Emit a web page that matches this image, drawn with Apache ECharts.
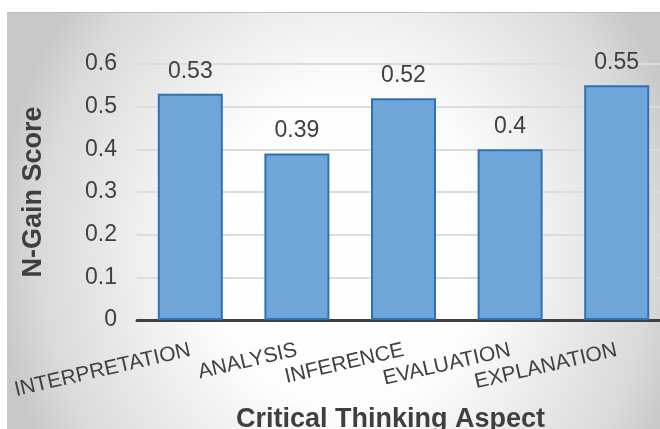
<!DOCTYPE html>
<html>
<head>
<meta charset="utf-8">
<script src="https://cdn.jsdelivr.net/npm/echarts@6/dist/echarts.min.js"></script>
<style>
html,body{margin:0;padding:0;background:#ffffff;}
#chart{width:660px;height:429px;}
</style>
</head>
<body>
<div id="chart"></div>
<script>
const categories = ['INTERPRETATION', 'ANALYSIS', 'INFERENCE', 'EVALUATION', 'EXPLANATION'];
const values = [0.53, 0.39, 0.52, 0.4, 0.55];
const yTickLabels = ['0', '0.1', '0.2', '0.3', '0.4', '0.5', '0.6'];
const yTitle = 'N-Gain Score';
const xTitle = 'Critical Thinking Aspect';

const FONT = '"Liberation Sans", Arial, sans-serif';
const chart = echarts.init(document.getElementById('chart'), null, {renderer: 'canvas'});

chart.setOption({
  animation: false,
  graphic: [
    {
      type: 'rect', z: -20, silent: true,
      x: 7, y: 12, scaleX: 1, scaleY: 1.143,
      shape: {x: 0, y: 0, width: 653, height: 364.9},
      style: {
        fill: new echarts.graphic.RadialGradient(0.518, 0.571, 0.959, [
          {offset: 0, color: '#ffffff'},
          {offset: 0.4, color: '#fdfdfd'},
          {offset: 0.63, color: '#ececec'},
          {offset: 0.87, color: '#dadada'},
          {offset: 1, color: '#c8c8c8'}
        ])
      }
    },
    {
      type: 'line', z: -18, silent: true,
      shape: {x1: 7, y1: 12.5, x2: 660, y2: 12.5},
      style: {stroke: '#bdbdbd', lineWidth: 1}
    }
  ],
  grid: {left: 137, top: 64, width: 533, height: 256, containLabel: false, outerBoundsMode: 'none'},
  xAxis: {
    type: 'category',
    data: categories,
    name: xTitle,
    nameLocation: 'middle',
    nameGap: 80,
    nameTextStyle: {fontFamily: FONT, fontSize: 27, fontWeight: 'bold', color: '#3f3f3f', padding: [0, 26, 0, 0]},
    axisLine: {show: true, lineStyle: {color: '#404040', width: 3}},
    axisTick: {show: false},
    axisLabel: {rotate: 13, margin: 30, fontFamily: FONT, fontSize: 21, color: '#404040', interval: 0}
  },
  yAxis: {
    type: 'value',
    min: 0, max: 0.6, interval: 0.1,
    name: yTitle,
    nameLocation: 'middle',
    nameGap: 90,
    nameRotate: 90,
    nameTextStyle: {fontFamily: FONT, fontSize: 27, fontWeight: 'bold', color: '#3f3f3f'},
    axisLine: {show: false},
    axisTick: {show: false},
    axisLabel: {
      margin: 20, fontFamily: FONT, fontSize: 23, color: '#404040',
      formatter: function (v, i) { return yTickLabels[i]; }
    },
    splitLine: {show: true, lineStyle: {color: '#dcdcdc', width: 2}}
  },
  series: [{
    type: 'bar',
    data: values,
    barWidth: 65,
    itemStyle: {color: '#6fa6da', borderColor: '#2f72b3', borderWidth: 2},
    label: {
      show: true, position: 'top', distance: 11,
      fontFamily: FONT, fontSize: 23, color: '#404040',
      formatter: function (p) { return String(values[p.dataIndex]); }
    }
  }]
});
</script>
</body>
</html>
